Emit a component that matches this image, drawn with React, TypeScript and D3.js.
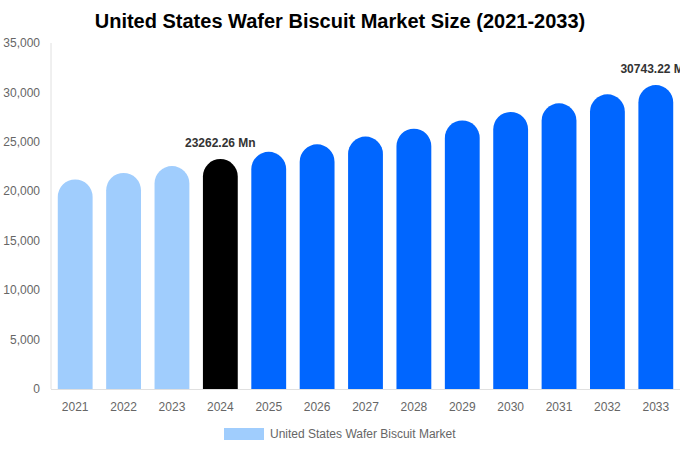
import { useEffect, useRef } from 'react';
import * as d3 from 'd3';

const years = ['2021', '2022', '2023', '2024', '2025', '2026', '2027', '2028', '2029', '2030', '2031', '2032', '2033'];
const marketSize = [21190, 21860, 22550, 23262.26, 23990, 24750, 25530, 26330, 27160, 28020, 28900, 29810, 30743.22];
const barColors = ['#a0cdfd', '#a0cdfd', '#a0cdfd', '#000000', '#0066ff', '#0066ff', '#0066ff', '#0066ff', '#0066ff', '#0066ff', '#0066ff', '#0066ff', '#0066ff'];
const labelledYears = ['2024', '2033'];
const yTicks = [0, 5000, 10000, 15000, 20000, 25000, 30000, 35000];

const W = 680;
const H = 450;

export default function App() {
  const svgRef = useRef<SVGSVGElement>(null);

  useEffect(() => {
    document.body.style.margin = '0';
    if (!svgRef.current) return;
    const svg = d3.select(svgRef.current);
    svg.selectAll('*').remove();

    const left = 51;
    const right = 680;
    const top = 43;
    const bottom = 389;
    const font = 'Liberation Sans, Arial, sans-serif';

    const x = d3.scaleBand<string>().domain(years).range([left, right]).paddingInner(0.28).paddingOuter(0.14);
    const y = d3.scaleLinear().domain([0, 35000]).range([bottom, top]);

    // title
    svg.append('text')
      .attr('x', W / 2).attr('y', 28)
      .attr('text-anchor', 'middle')
      .attr('font-family', font).attr('font-size', 20).attr('font-weight', 'bold')
      .attr('fill', '#000')
      .text('United States Wafer Biscuit Market Size (2021-2033)');

    // axes lines
    svg.append('line').attr('x1', left).attr('x2', left).attr('y1', top).attr('y2', bottom)
      .attr('stroke', '#e0e0e0').attr('stroke-width', 1);
    svg.append('line').attr('x1', left).attr('x2', right).attr('y1', bottom + 0.5).attr('y2', bottom + 0.5)
      .attr('stroke', '#e0e0e0').attr('stroke-width', 1);

    // y ticks
    svg.append('g').selectAll('text').data(yTicks).join('text')
      .attr('x', 40).attr('y', d => y(d))
      .attr('dy', '0.35em')
      .attr('text-anchor', 'end')
      .attr('font-family', font).attr('font-size', 12).attr('fill', '#666')
      .text(d => d3.format(',')(d));

    // x ticks
    svg.append('g').selectAll('text').data(years).join('text')
      .attr('x', d => (x(d) ?? 0) + x.bandwidth() / 2).attr('y', 411)
      .attr('text-anchor', 'middle')
      .attr('font-family', font).attr('font-size', 12).attr('fill', '#666')
      .text(d => d);

    // bars with rounded tops
    const bw = x.bandwidth();
    const r = bw / 2;
    svg.append('g').selectAll('path').data(years).join('path')
      .attr('d', (d, i) => {
        const x0 = x(d) ?? 0;
        const yt = y(marketSize[i]);
        return `M${x0},${bottom} L${x0},${yt + r} A${r},${r} 0 0 1 ${x0 + bw},${yt + r} L${x0 + bw},${bottom} Z`;
      })
      .attr('fill', (d, i) => barColors[i]);

    // value labels
    svg.append('g').selectAll('text').data(labelledYears).join('text')
      .attr('x', d => (x(d) ?? 0) + bw / 2)
      .attr('y', d => y(marketSize[years.indexOf(d)]) - 12)
      .attr('text-anchor', 'middle')
      .attr('font-family', font).attr('font-size', 12).attr('font-weight', 'bold').attr('fill', '#333')
      .text(d => `${marketSize[years.indexOf(d)].toFixed(2)} Mn`);

    // legend
    svg.append('rect').attr('x', 224).attr('y', 428).attr('width', 40).attr('height', 12).attr('fill', '#a0cdfd');
    svg.append('text').attr('x', 270).attr('y', 437.5)
      .attr('font-family', font).attr('font-size', 12).attr('fill', '#666')
      .text('United States Wafer Biscuit Market');
  }, []);

  return <svg ref={svgRef} width={W} height={H} style={{ display: 'block' }} />;
}
